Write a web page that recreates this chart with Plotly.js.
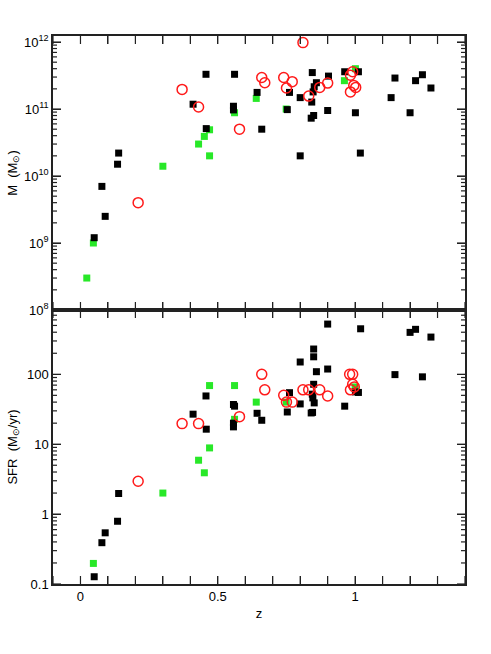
<!DOCTYPE html>
<html><head><meta charset="utf-8">
<script src="https://cdn.plot.ly/plotly-3.0.1.min.js"></script>
<style>body{margin:0;background:#fff}#c{width:491px;height:654px}</style>
</head><body><div id="c"></div>
<script>
// Top panel: stellar mass vs redshift
const massBlackZ = [0.05,0.078,0.09,0.135,0.139,0.41,0.457,0.458,0.561,0.557,0.557,0.643,0.66,0.753,0.761,0.80,0.80,0.844,0.84,0.849,0.842,0.847,0.851,0.859,0.903,0.90,0.962,1.001,1.012,1.019,1.131,1.145,1.20,1.22,1.245,1.276];
const massBlackM = [1.2e9,7e9,2.5e9,1.5e10,2.2e10,1.18e11,3.3e11,5.1e10,3.3e11,1.1e11,9.7e10,1.77e11,5e10,9.8e10,1.77e11,1.48e11,2e10,3.5e11,7.3e10,8e10,1.27e11,1.8e11,2.15e11,2.47e11,3.1e11,9.5e10,3.6e11,8.8e10,3.6e11,2.2e10,1.48e11,2.9e11,8.8e10,2.65e11,3.25e11,2.06e11];
const massGreenZ = [0.023,0.047,0.30,0.43,0.451,0.47,0.47,0.561,0.64,0.749,0.961,1.001];
const massGreenM = [3e8,1e9,1.4e10,3e10,3.9e10,4.9e10,2e10,8.8e10,1.44e11,1e11,2.65e11,4e11];
const massRedZ = [0.21,0.37,0.43,0.579,0.81,0.66,0.671,0.74,0.75,0.771,0.831,0.871,0.90,0.983,0.991,0.983,0.995,1.002];
const massRedM = [4e9,1.96e11,1.07e11,5e10,9.8e11,2.96e11,2.47e11,2.96e11,2.06e11,2.56e11,1.56e11,2.1e11,2.44e11,3.2e11,3.6e11,1.8e11,2.25e11,2.1e11];

// Bottom panel: star formation rate vs redshift
const sfrBlackZ = [0.05,0.078,0.09,0.135,0.139,0.41,0.457,0.458,0.557,0.561,0.557,0.557,0.643,0.66,0.753,0.761,0.80,0.80,0.90,0.90,0.849,0.849,0.859,0.849,0.844,0.846,0.851,0.84,0.845,0.962,1.001,1.012,1.02,1.145,1.20,1.22,1.245,1.276];
const sfrBlackV = [0.127,0.39,0.54,0.79,1.97,26.9,49,16.4,37,35,20,17.7,27.7,22,28.9,54.6,37.7,150,523,119,230,178,109,72,52,46,39,28,28.5,35,56,55,448,99,398,440,92,341];
const sfrGreenZ = [0.047,0.30,0.43,0.451,0.47,0.47,0.561,0.561,0.64,0.749,1.0];
const sfrGreenV = [0.197,2,5.9,3.9,8.85,69,69,22.7,40,40,66];
const sfrRedZ = [0.21,0.37,0.43,0.579,0.66,0.671,0.74,0.75,0.771,0.81,0.831,0.871,0.90,0.98,0.991,0.983,0.991,0.997];
const sfrRedV = [2.95,19.7,19.7,24.8,100,60,50,40,40,60,60,60,49,100,100,60,72,66];

// Tick labels
const xTickVals = [-0.1,0,0.1,0.2,0.3,0.4,0.5,0.6,0.7,0.8,0.9,1,1.1,1.2,1.3,1.4];
const xTickText = ['','0','','','','','0.5','','','','','1','','','',''];
const massTickVals = [1e8,1e9,1e10,1e11,1e12];
const massTickText = ['10<sup>8</sup>','10<sup>9</sup>','10<sup>10</sup>','10<sup>11</sup>','10<sup>12</sup>'];
const sfrTickVals = [0.1,1,10,100];
const sfrTickText = ['0.1','1','10','100'];

const X_RANGE = [-0.1,1.4];
const SFR_RANGE = [-1,2.92];   // log10
const MASS_RANGE = [8,12.09];  // log10

function minorLog(lo, hi){const a=[];for(let e=lo;e<hi;e++){for(let d=2;d<=9;d++)a.push(d*Math.pow(10,e));}return a;}

const green = 'rgb(40,232,40)';
const sq = (c)=>({symbol:'square', size:7, color:c, line:{width:0}});
const red = {symbol:'circle-open', size:10, color:'#ff1a1a', line:{width:1.5, color:'#ff1a1a'}};

const traces = [
 {x:massGreenZ,y:massGreenM,mode:'markers',marker:sq(green),xaxis:'x2',yaxis:'y2'},
 {x:massBlackZ,y:massBlackM,mode:'markers',marker:sq('#000'),xaxis:'x2',yaxis:'y2'},
 {x:massRedZ,y:massRedM,mode:'markers',marker:red,xaxis:'x2',yaxis:'y2'},
 {x:sfrGreenZ,y:sfrGreenV,mode:'markers',marker:sq(green),xaxis:'x',yaxis:'y'},
 {x:sfrBlackZ,y:sfrBlackV,mode:'markers',marker:sq('#000'),xaxis:'x',yaxis:'y'},
 {x:sfrRedZ,y:sfrRedV,mode:'markers',marker:red,xaxis:'x',yaxis:'y'}
];

const fnt = {family:'Liberation Sans, Arial, sans-serif', size:13, color:'#000'};
const axCommon = {showline:true, linecolor:'#222', linewidth:1.5, mirror:'ticks', ticks:'inside', tickcolor:'#222', tickwidth:1.2, showgrid:false, zeroline:false, tickfont:fnt};
const xBase = Object.assign({}, axCommon, {range:X_RANGE, tickmode:'array', tickvals:xTickVals, ticktext:xTickText, ticklen:8});

// Tick marks as shapes, placed from the tick arrays (frame is 412 x 274 px per panel)
const tickLine = {color:'#222', width:1.2};
const shapes = [];
function xTicks(yref){
  const L = 8/274;
  xTickVals.forEach(v=>{
    shapes.push({type:'line', xref:yref==='y domain'?'x':'x2', yref:yref, x0:v, x1:v, y0:0, y1:L, line:tickLine, layer:'above'});
    shapes.push({type:'line', xref:yref==='y domain'?'x':'x2', yref:yref, x0:v, x1:v, y0:1-L, y1:1, line:tickLine, layer:'above'});
  });
}
function yTicks(xref, yref, vals, rng, len){
  const L = len/412;
  vals.forEach(v=>{
    const f = (Math.log10(v)-rng[0])/(rng[1]-rng[0]);
    if(f<0||f>1) return;
    shapes.push({type:'line', xref:xref, yref:yref, x0:0, x1:L, y0:f, y1:f, line:tickLine, layer:'above'});
    shapes.push({type:'line', xref:xref, yref:yref, x0:1-L, x1:1, y0:f, y1:f, line:tickLine, layer:'above'});
  });
}
xTicks('y domain'); xTicks('y2 domain');
yTicks('x domain','y domain', sfrTickVals, SFR_RANGE, 8);
yTicks('x domain','y domain', minorLog(-1,3), SFR_RANGE, 4);
yTicks('x2 domain','y2 domain', massTickVals, MASS_RANGE, 8);
yTicks('x2 domain','y2 domain', minorLog(8,13), MASS_RANGE, 4);
shapes.push({type:'line', xref:'paper', yref:'paper', x0:0, x1:1, y0:0.5, y1:0.5, line:{color:'#222', width:3}});

const layout = {
 width:491, height:654, showlegend:false,
 margin:{l:53, r:26, t:36, b:70},
 paper_bgcolor:'#fff', plot_bgcolor:'#fff', font:fnt,
 xaxis: Object.assign({}, xBase, {anchor:'y', domain:[0,1], title:{text:'z', font:fnt, standoff:6}}),
 xaxis2: Object.assign({}, xBase, {anchor:'y2', domain:[0,1], showticklabels:false}),
 yaxis: Object.assign({}, axCommon, {type:'log', domain:[0,0.5], anchor:'x', range:SFR_RANGE, tickmode:'array', tickvals:sfrTickVals, ticktext:sfrTickText, ticklen:8,
   title:{text:'SFR  (M<sub>\u2299</sub>/yr)', font:fnt}}),
 yaxis2: Object.assign({}, axCommon, {type:'log', domain:[0.5,1], anchor:'x2', range:MASS_RANGE, tickmode:'array', tickvals:massTickVals, ticktext:massTickText, ticklen:8,
   title:{text:'M  (M<sub>\u2299</sub>)', font:fnt}}),
 shapes: shapes
};
Plotly.newPlot('c', traces, layout, {displayModeBar:false});
</script></body></html>
